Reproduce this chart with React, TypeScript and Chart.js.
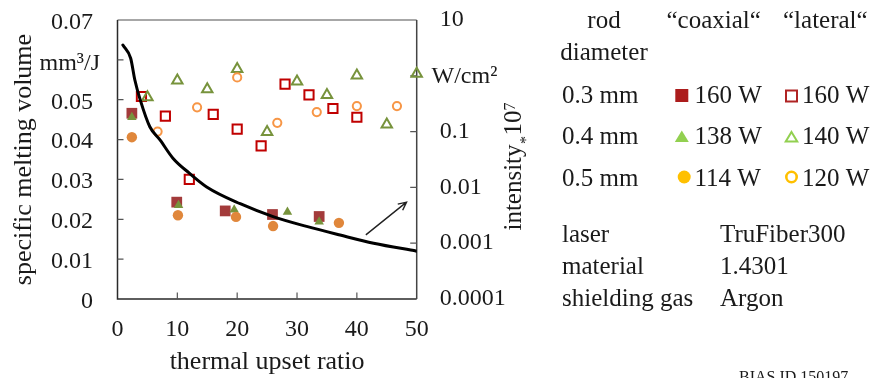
import React, { useEffect, useRef } from 'react';
import { Chart, registerables } from 'chart.js';

Chart.register(...registerables);

const FONT = "'Liberation Serif', 'Times New Roman', serif";
const TEXT = '#1a1a1a';

// ---- axes ----
const xTicks = [0, 10, 20, 30, 40, 50];
const leftTicks = [0, 0.01, 0.02, 0.03, 0.04, 0.05, 0.06, 0.07];
const leftTickLabels = ['0', '0.01', '0.02', '0.03', '0.04', '0.05', '', '0.07'];
const leftUnit = 'mm³/J';
const leftUnitAt = 0.06;
const rightTicks = [0.0001, 0.001, 0.01, 0.1, 1, 10];
const rightTickLabels = ['0.0001', '0.001', '0.01', '0.1', '', '10'];
const rightUnit = 'W/cm²';
const rightUnitAt = 1;

// ---- intensity curve (right, log axis) ----
const curveX = [0.9, 2.2, 2.9, 3.8, 5.4, 7.1, 9.3, 12, 14.9, 20.5, 26, 31.6, 37.2, 42.8, 50];
const curveIntensity = [3.56, 2.06, 0.84, 0.37, 0.122, 0.071, 0.033, 0.018, 0.0102, 0.0051, 0.003, 0.002, 0.0014, 0.001, 0.00072];

// ---- measured points (left axis) ----
const coax03X = [2.4, 9.9, 18.0, 25.9, 33.7];
const coax03Y = [0.0466, 0.0243, 0.0221, 0.0212, 0.0207];
const lat03X = [4.0, 8.0, 12.0, 16.0, 20.0, 24.0, 28.0, 32.0, 36.0, 40.0];
const lat03Y = [0.0508, 0.0459, 0.03, 0.0463, 0.0426, 0.0384, 0.0539, 0.0512, 0.0478, 0.0456];
const coax04X = [2.4, 10.2, 19.5, 28.4, 33.7];
const coax04Y = [0.0456, 0.0235, 0.0224, 0.0218, 0.0194];
const lat04X = [5.0, 10.0, 15.0, 20.0, 25.0, 30.0, 35.0, 40.0, 45.0, 50.0];
const lat04Y = [0.0506, 0.0548, 0.0526, 0.0577, 0.0419, 0.0546, 0.0512, 0.0561, 0.0438, 0.0565];
const coax05X = [2.4, 10.1, 19.8, 26.0, 37.0];
const coax05Y = [0.0406, 0.021, 0.0206, 0.0183, 0.0191];
const lat05X = [6.7, 13.3, 20.0, 26.7, 33.3, 40.0, 46.7];
const lat05Y = [0.042, 0.0481, 0.0556, 0.0442, 0.0469, 0.0484, 0.0484];

// ---- arrow annotation (data coords: x, left y) ----
const arrowFrom = [41.5, 0.0161];
const arrowTo = [48.3, 0.0243];

// ---- legend table ----
const headerRod = ['rod', 'diameter'];
const headerCols = ['\u201Ccoaxial\u201C', '\u201Clateral\u201C'];
const rowLabels = ['0.3 mm', '0.4 mm', '0.5 mm'];
const coaxLabels = ['160 W', '138 W', '114 W'];
const latLabels = ['160 W', '140 W', '120 W'];
const infoKeys = ['laser', 'material', 'shielding gas'];
const infoValues = ['TruFiber300', '1.4301', 'Argon'];
const footnote = 'BIAS ID 150197';

const rightTitle = ['intensity', '*', '10', '7'];

const pts = (xs: number[], ys: number[]) => xs.map((x, i) => ({ x, y: ys[i] }));

const overlay = {
  id: 'overlay',
  beforeDatasetsDraw(chart: any) {
    const { ctx, chartArea: a } = chart;
    ctx.save();
    // frame
    ctx.lineWidth = 1.5;
    ctx.strokeStyle = '#8a8a8a';
    ctx.beginPath();
    ctx.moveTo(a.left, a.top);
    ctx.lineTo(a.right, a.top);
    ctx.stroke();
    ctx.strokeStyle = '#2a2a2a';
    ctx.beginPath();
    ctx.moveTo(a.left, a.top);
    ctx.lineTo(a.left, a.bottom);
    ctx.lineTo(a.right, a.bottom);
    ctx.stroke();
    ctx.strokeStyle = '#444';
    ctx.beginPath();
    ctx.moveTo(a.right, a.top);
    ctx.lineTo(a.right, a.bottom);
    ctx.stroke();
    // inward tick marks
    ctx.lineWidth = 1.2;
    ctx.strokeStyle = '#555';
    const sy = chart.scales.y, sx = chart.scales.x, sr = chart.scales.yR;
    ctx.beginPath();
    leftTicks.slice(1, -1).forEach((v) => {
      const p = sy.getPixelForValue(v);
      ctx.moveTo(a.left, p);
      ctx.lineTo(a.left + 6, p);
    });
    xTicks.slice(1, -1).forEach((v) => {
      const p = sx.getPixelForValue(v);
      ctx.moveTo(p, a.bottom);
      ctx.lineTo(p, a.bottom - 6.5);
    });
    rightTicks.slice(1, -1).forEach((v) => {
      const p = sr.getPixelForValue(v);
      ctx.moveTo(a.right, p);
      ctx.lineTo(a.right - 6.5, p);
    });
    ctx.stroke();
    ctx.restore();
  },
  afterDraw(chart: any) {
    const { ctx } = chart;
    const sy = chart.scales.y, sx = chart.scales.x, sr = chart.scales.yR;
    ctx.save();
    // arrow
    const x0 = sx.getPixelForValue(arrowFrom[0]), y0 = sy.getPixelForValue(arrowFrom[1]);
    const x1 = sx.getPixelForValue(arrowTo[0]), y1 = sy.getPixelForValue(arrowTo[1]);
    ctx.strokeStyle = '#222';
    ctx.lineWidth = 1.4;
    ctx.beginPath();
    ctx.moveTo(x0, y0);
    ctx.lineTo(x1, y1);
    const ang = Math.atan2(y1 - y0, x1 - x0);
    const hl = 9;
    ctx.moveTo(x1 - hl * Math.cos(ang - 0.45), y1 - hl * Math.sin(ang - 0.45));
    ctx.lineTo(x1, y1);
    ctx.lineTo(x1 - hl * Math.cos(ang + 0.45), y1 - hl * Math.sin(ang + 0.45));
    ctx.stroke();

    ctx.fillStyle = TEXT;
    // unit labels on axes
    ctx.font = `24px ${FONT}`;
    ctx.textBaseline = 'middle';
    ctx.textAlign = 'right';
    ctx.fillText(leftUnit, 100, sy.getPixelForValue(leftUnitAt) + 3.5);
    ctx.textAlign = 'left';
    ctx.fillText(rightUnit, 431.5, sr.getPixelForValue(rightUnitAt) + 0.5);

    // right axis title, rotated
    ctx.textBaseline = 'alphabetic';
    const big = `25px ${FONT}`, small = `16px ${FONT}`;
    ctx.font = big;
    const w0 = ctx.measureText(rightTitle[0]).width;
    const w2 = ctx.measureText(rightTitle[2]).width;
    ctx.font = small;
    const w1 = ctx.measureText(rightTitle[1]).width;
    const w3 = ctx.measureText(rightTitle[3]).width;
    const total = w0 + w1 + w2 + w3 + 1;
    ctx.save();
    ctx.translate(520.5, 166.5);
    ctx.rotate(-Math.PI / 2);
    let cx = -total / 2;
    ctx.font = big;
    ctx.fillText(rightTitle[0], cx, 0);
    cx += w0 + 0.5;
    ctx.font = small;
    ctx.fillText(rightTitle[1], cx, 10);
    cx += w1 + 0.5;
    ctx.font = big;
    ctx.fillText(rightTitle[2], cx, 0);
    cx += w2;
    ctx.font = small;
    ctx.fillText(rightTitle[3], cx, -5.5);
    ctx.restore();

    // legend table
    ctx.font = `25px ${FONT}`;
    ctx.textBaseline = 'alphabetic';
    ctx.textAlign = 'center';
    ctx.fillText(headerRod[0], 604, 28);
    ctx.fillText(headerRod[1], 604, 60);
    ctx.textAlign = 'left';
    ctx.fillText(headerCols[0], 666.5, 28);
    ctx.fillText(headerCols[1], 783, 28);
    const rowBase = [102.7, 144.3, 186];
    rowBase.forEach((b, i) => {
      ctx.fillStyle = TEXT;
      ctx.fillText(rowLabels[i], 562, b);
      ctx.fillText(coaxLabels[i], 694.5, b);
      ctx.fillText(latLabels[i], 802, b);
    });
    // legend markers
    const c1 = 681.8, c2 = 791.5;
    ctx.fillStyle = '#ac1c1c';
    ctx.fillRect(c1 - 6.5, 95.5 - 6.5, 13, 13);
    ctx.strokeStyle = '#b02424';
    ctx.lineWidth = 2;
    ctx.strokeRect(c2 - 5.5, 96 - 5.5, 11, 11);
    const tri = (cxp: number, cyTop: number, w: number, h: number) => {
      ctx.beginPath();
      ctx.moveTo(cxp, cyTop);
      ctx.lineTo(cxp + w / 2, cyTop + h);
      ctx.lineTo(cxp - w / 2, cyTop + h);
      ctx.closePath();
    };
    ctx.fillStyle = '#92d050';
    tri(c1, 130.5, 14, 11.5);
    ctx.fill();
    ctx.strokeStyle = '#92d050';
    ctx.lineWidth = 2;
    tri(c2, 132, 11.5, 9.5);
    ctx.stroke();
    ctx.fillStyle = '#ffc000';
    ctx.beginPath();
    ctx.arc(684.2, 177, 6.5, 0, Math.PI * 2);
    ctx.fill();
    ctx.strokeStyle = '#ffc000';
    ctx.lineWidth = 2.6;
    ctx.beginPath();
    ctx.arc(c2, 177, 5.2, 0, Math.PI * 2);
    ctx.stroke();

    // info block
    ctx.fillStyle = TEXT;
    ctx.font = `25px ${FONT}`;
    const infoBase = [241.7, 274, 306];
    infoBase.forEach((b, i) => {
      ctx.fillText(infoKeys[i], 562, b);
      ctx.fillText(infoValues[i], 720, b);
    });
    ctx.font = `16px ${FONT}`;
    ctx.fillText(footnote, 739, 382);
    ctx.restore();
  },
};

const noPad = (s: any) => {
  s.paddingTop = 0;
  s.paddingBottom = 0;
  s.paddingLeft = 0;
  s.paddingRight = 0;
};

export default function App() {
  const ref = useRef<HTMLCanvasElement | null>(null);

  useEffect(() => {
    if (!ref.current) return;
    const tickFont = { family: FONT, size: 24 };
    const chart = new Chart(ref.current, {
      type: 'scatter',
      data: {
        datasets: [
          {
            label: 'intensity',
            data: pts(curveX, curveIntensity),
            yAxisID: 'yR',
            showLine: true,
            borderColor: '#000',
            borderWidth: 3,
            pointRadius: 0,
            cubicInterpolationMode: 'monotone',
            borderCapStyle: 'round',
            fill: false,
            order: 0,
          },
          {
            label: '0.5 mm lateral 120 W',
            data: pts(lat05X, lat05Y),
            yAxisID: 'y',
            pointStyle: 'circle',
            pointRadius: 4.1,
            borderWidth: 2,
            borderColor: '#f79646',
            backgroundColor: 'rgba(0,0,0,0)',
            clip: false,
            order: 1,
          },
          {
            label: '0.5 mm coaxial 114 W',
            data: pts(coax05X, coax05Y),
            yAxisID: 'y',
            pointStyle: 'circle',
            pointRadius: 5.2,
            borderWidth: 0,
            backgroundColor: '#e0873b',
            clip: false,
            order: 1,
          },
          {
            label: '0.4 mm lateral 140 W',
            data: pts(lat04X, lat04Y),
            yAxisID: 'y',
            pointStyle: 'triangle',
            pointRadius: 6,
            borderWidth: 2,
            borderColor: '#77933c',
            backgroundColor: 'rgba(0,0,0,0)',
            clip: false,
            order: 2,
          },
          {
            label: '0.4 mm coaxial 138 W',
            data: pts(coax04X, coax04Y),
            yAxisID: 'y',
            pointStyle: 'triangle',
            pointRadius: 5.5,
            borderWidth: 0,
            backgroundColor: '#77933c',
            clip: false,
            order: 2,
          },
          {
            label: '0.3 mm lateral 160 W',
            data: pts(lat03X, lat03Y),
            yAxisID: 'y',
            pointStyle: 'rect',
            pointRadius: 6.5,
            borderWidth: 2,
            borderColor: '#c00000',
            backgroundColor: 'rgba(0,0,0,0)',
            clip: false,
            order: 3,
          },
          {
            label: '0.3 mm coaxial 160 W',
            data: pts(coax03X, coax03Y),
            yAxisID: 'y',
            pointStyle: 'rect',
            pointRadius: 7.6,
            borderWidth: 0,
            backgroundColor: '#a33b3b',
            clip: false,
            order: 3,
          },
        ],
      },
      options: {
        responsive: false,
        animation: false,
        devicePixelRatio: 1,
        events: [],
        layout: { autoPadding: false, padding: { top: 20, right: 874 - 416.7 - 100, bottom: 0, left: 0 } },
        plugins: { legend: { display: false }, tooltip: { enabled: false } },
        scales: {
          x: {
            type: 'linear',
            position: 'bottom',
            min: 0,
            max: 50,
            afterBuildTicks: (s: any) => {
              s.ticks = xTicks.map((v) => ({ value: v }));
            },
            afterFit: (s: any) => {
              s.height = 79;
              noPad(s);
            },
            ticks: {
              font: tickFont,
              color: TEXT,
              padding: 16.6,
              maxRotation: 0,
              autoSkip: false,
              callback: (v: any) => String(v),
            },
            grid: { display: false, drawTicks: false },
            border: { display: false },
            title: {
              display: true,
              text: 'thermal upset ratio',
              color: TEXT,
              font: { family: FONT, size: 26 },
              padding: { top: 0, bottom: 0 },
            },
          },
          y: {
            type: 'linear',
            position: 'left',
            min: 0,
            max: 0.07,
            afterBuildTicks: (s: any) => {
              s.ticks = leftTicks.map((v) => ({ value: v }));
            },
            afterFit: (s: any) => {
              s.width = 117.5;
              noPad(s);
            },
            ticks: {
              font: tickFont,
              color: TEXT,
              padding: 24.5,
              labelOffset: 2.5,
              autoSkip: false,
              callback: (_v: any, i: number) => leftTickLabels[i],
            },
            grid: { display: false, drawTicks: false },
            border: { display: false },
            title: {
              display: true,
              text: 'specific melting volume',
              color: TEXT,
              font: { family: FONT, size: 26 },
              padding: { top: 8.5, bottom: 0 },
            },
          },
          yR: {
            type: 'logarithmic',
            position: 'right',
            min: 0.0001,
            max: 10,
            afterBuildTicks: (s: any) => {
              s.ticks = rightTicks.map((v) => ({ value: v }));
            },
            afterFit: (s: any) => {
              s.width = 100;
              noPad(s);
            },
            ticks: {
              font: tickFont,
              color: TEXT,
              padding: 23,
              autoSkip: false,
              callback: (_v: any, i: number) => rightTickLabels[i],
            },
            grid: { display: false, drawTicks: false },
            border: { display: false },
          },
        },
      },
      plugins: [overlay],
    } as any);
    return () => chart.destroy();
  }, []);

  return (
    <div style={{ position: 'absolute', left: 0, top: 0, width: 874, height: 378, background: '#fff' }}>
      <canvas ref={ref} width={874} height={378} style={{ display: 'block', width: 874, height: 378 }} />
    </div>
  );
}
